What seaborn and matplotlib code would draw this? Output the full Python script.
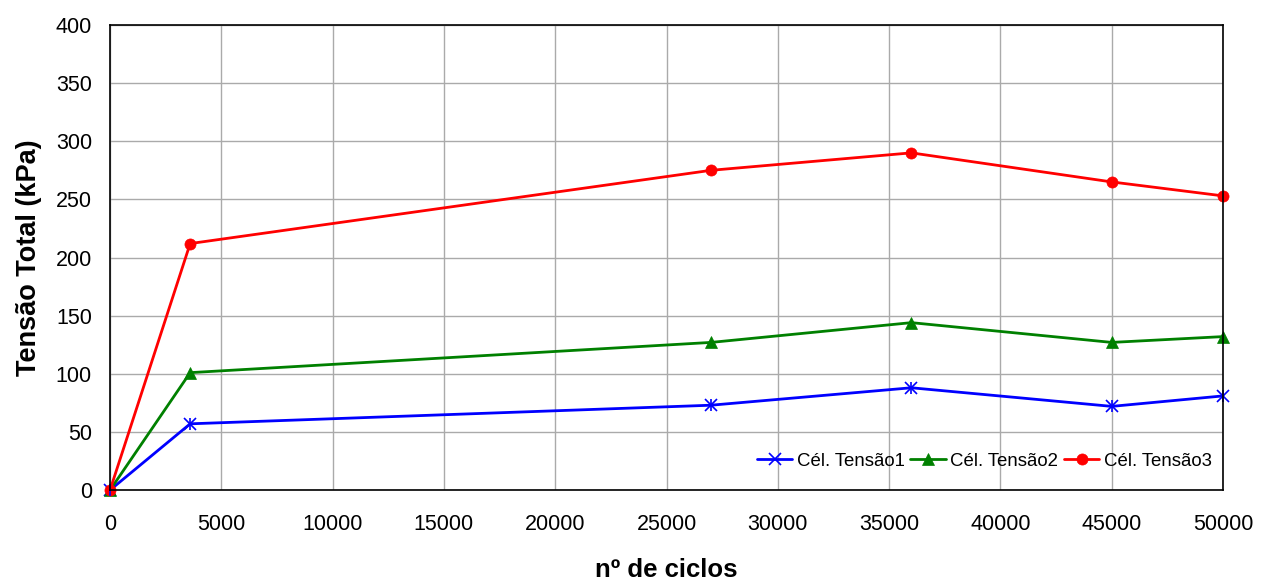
import matplotlib
matplotlib.use("Agg")
import matplotlib.pyplot as plt
import seaborn as sns
import pandas as pd

ciclos = [0, 3600, 27000, 36000, 45000, 50000]
tensao1 = [0, 57, 73, 88, 72, 81]
tensao2 = [0, 101, 127, 144, 127, 132]
tensao3 = [0, 212, 275, 290, 265, 253]
series_names = ["Cél. Tensão1", "Cél. Tensão2", "Cél. Tensão3"]
x_ticks = list(range(0, 50001, 5000))
y_ticks = list(range(0, 401, 50))

sns.set_theme(style="white")
plt.rcParams['font.family'] = ['Liberation Sans', 'DejaVu Sans']
plt.rcParams['text.color'] = 'black'
plt.rcParams['axes.labelcolor'] = 'black'

df = pd.DataFrame({
    "ciclos": ciclos * 3,
    "valor": tensao1 + tensao2 + tensao3,
    "serie": [series_names[0]] * 6 + [series_names[1]] * 6 + [series_names[2]] * 6,
})

fig = plt.figure(figsize=(12.72, 5.8), dpi=100)
ax = fig.add_axes([0.0865, 0.155, 0.875, 0.802])

palette = {series_names[0]: "#0000FF", series_names[1]: "#008000", series_names[2]: "#FF0000"}
markers = {series_names[0]: "x", series_names[1]: "^", series_names[2]: "o"}

for name in series_names:
    sub = df[df["serie"] == name]
    mk = markers[name]
    sns.lineplot(data=sub, x="ciclos", y="valor", ax=ax, color=palette[name],
                 linewidth=2, label=name, clip_on=False,
                 marker=mk, markersize=8 if mk != "x" else 9,
                 markeredgewidth=1.2 if mk == "x" else 0.5,
                 markeredgecolor=palette[name])
# overlay vertical bar to make an asterisk for series 1
sub = df[df["serie"] == series_names[0]]
ax.plot(sub["ciclos"], sub["valor"], linestyle="none", marker="|", markersize=9,
        color="#0000FF", markeredgewidth=1.2, clip_on=False)

ax.set_xlim(0, 50000)
ax.set_ylim(0, 400)
ax.set_xticks(x_ticks)
ax.set_yticks(y_ticks)
ax.set_xticklabels([str(v) for v in x_ticks], fontsize=15.5, color="black")
ax.set_yticklabels([str(v) for v in y_ticks], fontsize=15.5, color="black")
ax.grid(True, color="#AAAAAA", linewidth=1)
ax.set_axisbelow(True)
for s in ax.spines.values():
    s.set_visible(True)
    s.set_color("black")
    s.set_linewidth(1.2)
ax.tick_params(axis="both", direction="out", length=5, width=1, color="black")
ax.tick_params(axis="x", pad=12)
ax.tick_params(axis="y", pad=8)
ax.set_xlabel("nº de ciclos", fontsize=18.5, fontweight="bold", labelpad=17, color="black")
ax.set_ylabel("Tensão Total (kPa)", fontsize=19.5, fontweight="bold", labelpad=10, color="black")

handles, labels = ax.get_legend_handles_labels()
leg = ax.legend(handles[:3], labels[:3], loc="lower right", bbox_to_anchor=(1.0, 0.02),
                ncol=3, frameon=False, fontsize=13.4, handlelength=1.9,
                columnspacing=0.3, handletextpad=0.25, borderaxespad=0.2)
for t in leg.get_texts():
    t.set_color("black")

fig.savefig("out.png", dpi=100)
